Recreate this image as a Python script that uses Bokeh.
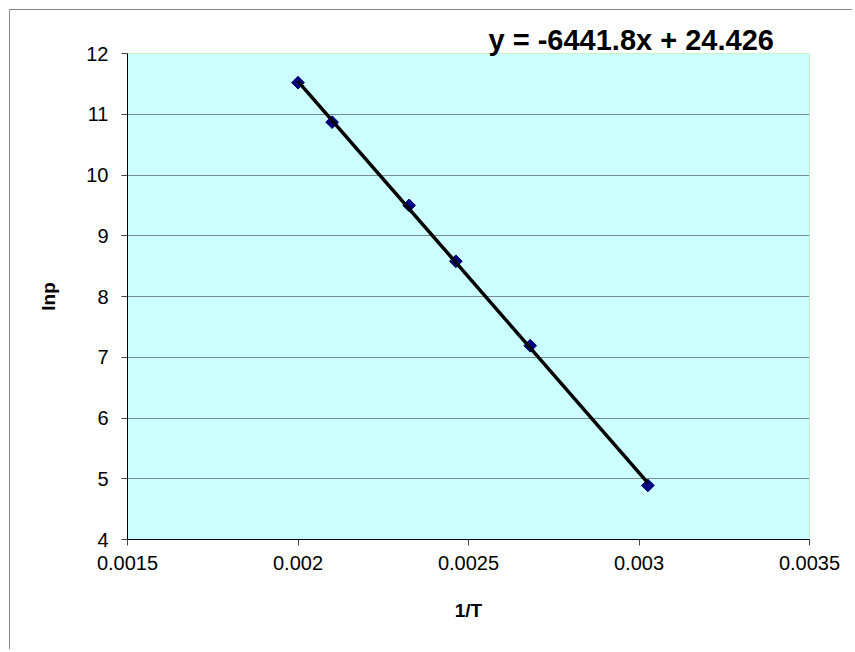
import math
from bokeh.plotting import figure
from bokeh.models import Range1d, FixedTicker, CustomJSTickFormatter
from bokeh.embed import file_html
from bokeh.resources import INLINE

# data
inv_T = [0.002, 0.0021, 0.002326, 0.002463, 0.002681, 0.003026]
ln_p = [11.52, 10.87, 9.50, 8.58, 7.19, 4.89]
x_ticks = [0.0015, 0.002, 0.0025, 0.003, 0.0035]
y_ticks = [4, 5, 6, 7, 8, 9, 10, 11, 12]
slope = -6441.8
intercept = 24.426
equation = "y = -6441.8x + 24.426"

FONT = "Liberation Sans"

p = figure(width=843, height=640, output_backend="svg", toolbar_location=None,
           x_range=Range1d(x_ticks[0], x_ticks[-1]), y_range=Range1d(y_ticks[0], y_ticks[-1]),
           min_border_left=117, min_border_right=44, min_border_top=43, min_border_bottom=111)
p.margin = (9, 0, 0, 9)
p.styles = {"border-top": "1px solid #888888", "border-left": "1px solid #888888"}

p.title.text = equation
p.title.text_font = FONT
p.title.text_font_size = "29px"
p.title.text_font_style = "bold"
p.title.text_color = "black"
p.title.align = "left"
p.title.offset = 361
p.title.standoff = -4

p.background_fill_color = "#CCFFFF"
p.border_fill_color = "white"
p.outline_line_color = "#c8f5c8"
p.outline_line_width = 1

p.xgrid.grid_line_color = None
p.ygrid.grid_line_color = "#748f8f"
p.ygrid.grid_line_width = 1

for ax in (p.xaxis[0], p.yaxis[0]):
    ax.axis_line_color = "black"
    ax.axis_line_width = 1
    ax.major_tick_in = 0
    ax.major_tick_out = 6
    ax.major_tick_line_color = "#444444"
    ax.minor_tick_line_color = None
    ax.major_label_text_font = FONT
    ax.major_label_text_font_size = "20px"
    ax.major_label_text_color = "black"
    ax.axis_label_text_font = FONT
    ax.axis_label_text_font_size = "19px"
    ax.axis_label_text_font_style = "bold"
    ax.axis_label_text_color = "black"

p.xaxis.ticker = FixedTicker(ticks=x_ticks)
p.yaxis.ticker = FixedTicker(ticks=y_ticks)
p.xaxis.formatter = CustomJSTickFormatter(code="return parseFloat(tick.toFixed(6)).toString();")
p.xaxis.axis_label = "1/T"
p.yaxis.axis_label = "lnp"
p.xaxis.major_label_standoff = 10
p.yaxis.major_label_standoff = 13
p.xaxis.axis_label_standoff = 27
p.yaxis.axis_label_standoff = 24

# points (diamonds as rotated squares)
p.scatter(inv_T, ln_p, marker="square", angle=math.pi / 4, size=9,
          fill_color="#000080", line_color="#000080")

# trend line
tx = [min(inv_T), max(inv_T)]
ty = [slope * v + intercept for v in tx]
p.line(tx, ty, line_color="black", line_width=3.5)

open("out.html", "w").write(file_html(p, INLINE))
